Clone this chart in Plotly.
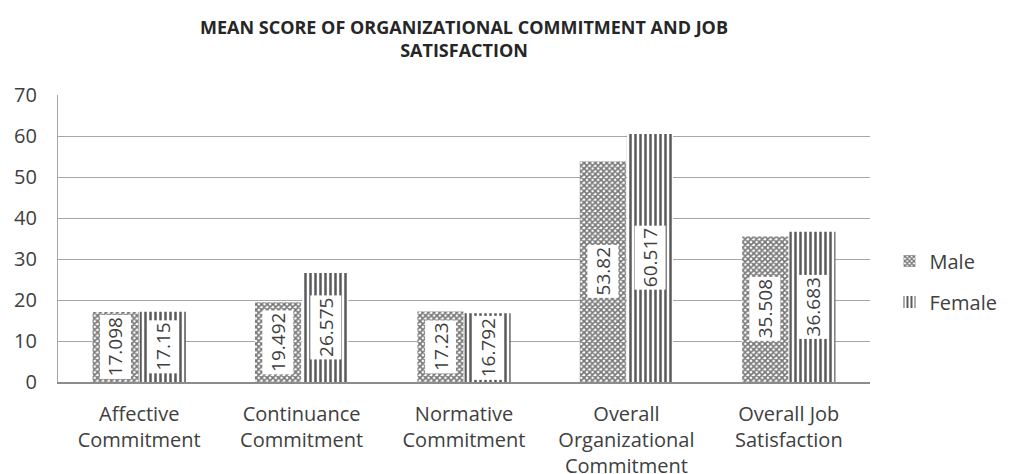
import plotly.graph_objects as go

categories = ["Affective<br>Commitment", "Continuance<br>Commitment", "Normative<br>Commitment",
              "Overall<br>Organizational<br>Commitment", "Overall Job<br>Satisfaction"]
male = [17.098, 19.492, 17.23, 53.82, 35.508]
female = [17.15, 26.575, 16.792, 60.517, 36.683]
male_labels = ["17.098", "19.492", "17.23", "53.82", "35.508"]
female_labels = ["17.15", "26.575", "16.792", "60.517", "36.683"]

FONT = "Open Sans"
TXT = "#404040"
fig = go.Figure()
fig.add_trace(go.Bar(
    name="Male", x=categories, y=male, legendgroup="m",
    marker=dict(color="white", line=dict(width=0),
                pattern=dict(shape="x", fgcolor="#767676", bgcolor="white", size=4, solidity=0.65,
                             fgopacity=1)),
))
fig.add_trace(go.Bar(
    name="Female", x=categories, y=female, legendgroup="f",
    marker=dict(color="white", line=dict(width=0),
                pattern=dict(shape="|", fgcolor="#5a5a5a", bgcolor="white", size=5, solidity=0.5,
                             fgopacity=1)),
))

bargap = 0.42
shift = (1 - bargap) / 4 * 163.8
for c, v, t in zip(categories, male, male_labels):
    fig.add_annotation(x=c, y=v / 2, text=t, showarrow=False, textangle=-90, xshift=-shift,
                       bgcolor="white", font=dict(family=FONT, size=19, color=TXT), borderpad=2)
for c, v, t in zip(categories, female, female_labels):
    fig.add_annotation(x=c, y=v / 2, text=t, showarrow=False, textangle=-90, xshift=shift,
                       bgcolor="white", font=dict(family=FONT, size=19, color=TXT), borderpad=2)

fig.update_layout(
    width=1015, height=474,
    paper_bgcolor="white", plot_bgcolor="white",
    margin=dict(l=58, r=138, t=95, b=92),
    barmode="group", bargap=bargap, bargroupgap=0.02,
    title=dict(text="<b>MEAN SCORE OF ORGANIZATIONAL COMMITMENT AND JOB<br>SATISFACTION</b>",
               x=0.5, xanchor="center", xref="paper", yref="container", y=1 - 34 / 474, yanchor="top",
               font=dict(family=FONT, size=18, color="#262626")),
    font=dict(family=FONT, size=20, color=TXT),
    legend=dict(x=1.024, xanchor="left", y=0.35, yanchor="middle",
                font=dict(family=FONT, size=20, color=TXT), tracegroupgap=12,
                itemwidth=30),
    xaxis=dict(showgrid=False, showline=True, linecolor="#8c8c8c", linewidth=1.5, automargin=False,
               tickfont=dict(family=FONT, size=20, color=TXT), ticks="", ticklabelstandoff=13),
    yaxis=dict(range=[0, 70.05], dtick=10, showgrid=True, gridcolor="#a6a6a6", gridwidth=1.2,
               showline=True, linecolor="#a6a6a6", linewidth=1.2, automargin=False,
               zeroline=False, tickfont=dict(family=FONT, size=20, color=TXT), ticks="",
               ticklabelstandoff=16),
)
fig.write_html("out.html", config={"displayModeBar": False},
               post_script="document.body.style.margin='0px';")
